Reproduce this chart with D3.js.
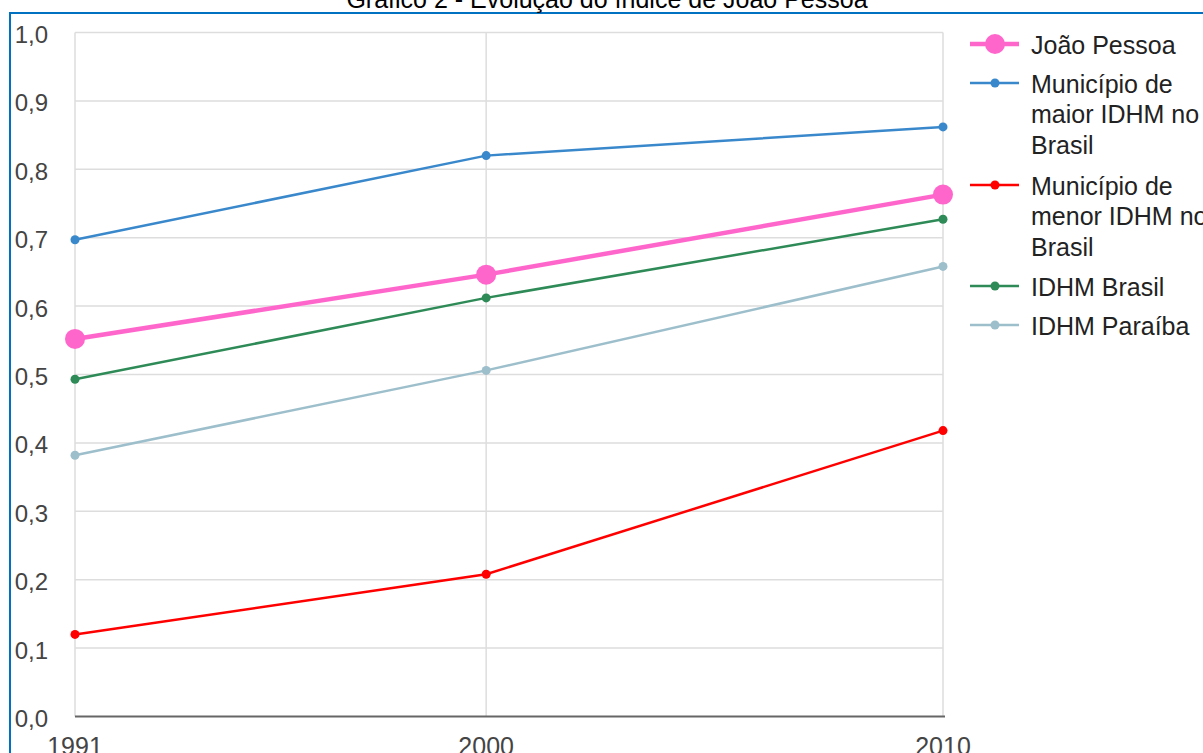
<!DOCTYPE html>
<html>
<head>
<meta charset="utf-8">
<script src="https://cdn.jsdelivr.net/npm/d3@7"></script>
<style>
  html, body { margin: 0; padding: 0; background: #fff; overflow: hidden; }
  svg { display: block; font-family: "Liberation Sans", Arial, sans-serif; }
</style>
</head>
<body>
<svg width="1203" height="753"></svg>
<script>
// Data
const years = [1991, 2000, 2010];
const yTicks = [0, 0.1, 0.2, 0.3, 0.4, 0.5, 0.6, 0.7, 0.8, 0.9, 1.0];

const joaoPessoa = [0.552, 0.646, 0.763];
const maiorIdhm = [0.697, 0.820, 0.862];
const menorIdhm = [0.120, 0.208, 0.418];
const idhmBrasil = [0.493, 0.612, 0.727];
const idhmParaiba = [0.382, 0.506, 0.658];

const seriesNames = [
  ['João Pessoa'],
  ['Município de', 'maior IDHM no', 'Brasil'],
  ['Município de', 'menor IDHM no', 'Brasil'],
  ['IDHM Brasil'],
  ['IDHM Paraíba'],
];

const series = [
  { name: seriesNames[0], values: joaoPessoa, color: '#ff66cc', width: 4.5, r: 10 },
  { name: seriesNames[1], values: maiorIdhm, color: '#3a88cc', width: 2.5, r: 4.5 },
  { name: seriesNames[2], values: menorIdhm, color: '#ff0000', width: 2.5, r: 4.5 },
  { name: seriesNames[3], values: idhmBrasil, color: '#2e8b57', width: 2.5, r: 4.5 },
  { name: seriesNames[4], values: idhmParaiba, color: '#9dbfcc', width: 2.5, r: 4.5 },
];

const svg = d3.select('svg');
const fontSize = 25;

const x = d3.scaleLinear().domain([1991, 2010]).range([75, 943]);
const y = d3.scaleLinear().domain([0, 1]).range([716.5, 32.5]);

// frame (blue border)
svg.append('line')
  .attr('x1', 10).attr('x2', 1203).attr('y1', 13).attr('y2', 13)
  .attr('stroke', '#0070c0').attr('stroke-width', 2);
svg.append('line')
  .attr('x1', 10).attr('x2', 10).attr('y1', 12).attr('y2', 753)
  .attr('stroke', '#0070c0').attr('stroke-width', 2);

// title
svg.append('text')
  .attr('x', 607).attr('y', 8)
  .attr('text-anchor', 'middle')
  .attr('font-size', fontSize)
  .attr('fill', '#000')
  .text('Gráfico 2 - Evolução do índice de João Pessoa');

// grid
svg.append('g')
  .selectAll('line')
  .data(yTicks.slice(1))
  .enter().append('line')
  .attr('x1', x(1991)).attr('x2', x(2010))
  .attr('y1', d => y(d)).attr('y2', d => y(d))
  .attr('stroke', '#dddddd').attr('stroke-width', 1.5);

svg.append('g')
  .selectAll('line')
  .data(years)
  .enter().append('line')
  .attr('x1', d => x(d)).attr('x2', d => x(d))
  .attr('y1', y(1)).attr('y2', y(0))
  .attr('stroke', '#dddddd').attr('stroke-width', 1.5);

// y labels
svg.append('g')
  .selectAll('text')
  .data(yTicks)
  .enter().append('text')
  .attr('x', 48).attr('y', d => y(d) + 10.5)
  .attr('text-anchor', 'end')
  .attr('font-size', 24)
  .attr('fill', '#444')
  .text(d => d3.format('.1f')(d).replace('.', ','));

// x axis line
svg.append('line')
  .attr('x1', x(1991)).attr('x2', x(2010) + 2)
  .attr('y1', y(0)).attr('y2', y(0))
  .attr('stroke', '#666').attr('stroke-width', 2);

svg.append('g')
  .selectAll('text')
  .data(years)
  .enter().append('text')
  .attr('x', d => x(d)).attr('y', 755)
  .attr('text-anchor', 'middle')
  .attr('font-size', fontSize)
  .attr('fill', '#444')
  .text(String);

// lines
const line = d3.line()
  .x((d, i) => x(years[i]))
  .y(d => y(d));

// draw order: thin series first, João Pessoa on top
const drawOrder = [4, 3, 2, 1, 0];
drawOrder.forEach(k => {
  const s = series[k];
  const g = svg.append('g');
  g.append('path')
    .attr('d', line(s.values))
    .attr('fill', 'none')
    .attr('stroke', s.color)
    .attr('stroke-width', s.width);
  g.selectAll('circle')
    .data(s.values)
    .enter().append('circle')
    .attr('cx', (d, i) => x(years[i]))
    .attr('cy', d => y(d))
    .attr('r', s.r)
    .attr('fill', s.color);
});

// legend
const legendY = [44, 83, 185, 286, 325];
const legend = svg.append('g');
series.forEach((s, k) => {
  const g = legend.append('g').attr('transform', `translate(0,${legendY[k]})`);
  g.append('line')
    .attr('x1', 970).attr('x2', 1019)
    .attr('stroke', s.color).attr('stroke-width', s.width);
  g.append('circle')
    .attr('cx', 995).attr('r', s.r)
    .attr('fill', s.color);
  g.selectAll('text')
    .data(s.name)
    .enter().append('text')
    .attr('x', 1031)
    .attr('y', (d, i) => i * 30.5 + 9.5)
    .attr('font-size', fontSize)
    .attr('fill', '#222')
    .text(d => d);
});
</script>
</body>
</html>
